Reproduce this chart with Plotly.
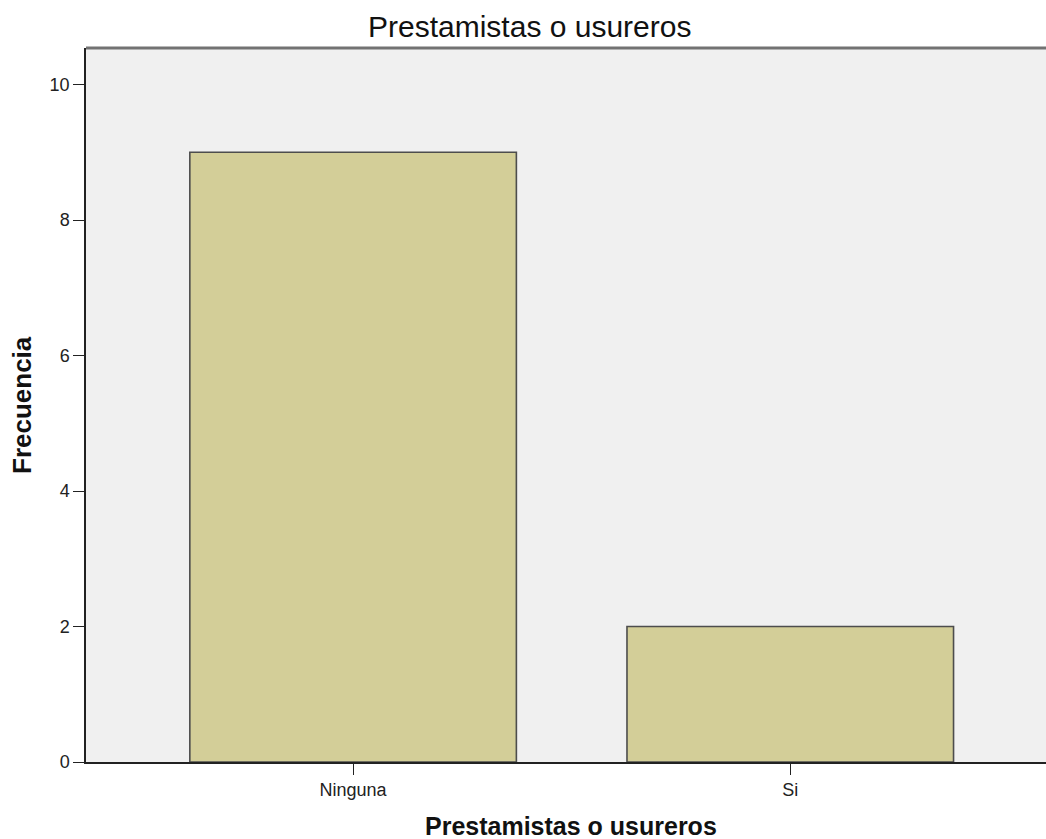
import plotly.graph_objects as go

categories = ["Ninguna", "Si"]
frequencies = [9, 2]
y_ticks = [0, 2, 4, 6, 8, 10]

W, H = 1046, 839
L, R, T, B = 86, 0, 48, 77
PW = W - L - R

fig = go.Figure(go.Bar(
    x=[0, 1], y=frequencies, width=0.747,
    marker=dict(color="#d3ce98", line=dict(color="#4d4d4d", width=1.6)),
))

font_fam = "Liberation Sans, Arial, sans-serif"
fig.update_layout(
    width=W, height=H,
    margin=dict(l=L, r=R, t=T, b=B),
    paper_bgcolor="white", plot_bgcolor="#f0f0f0",
    showlegend=False,
    font=dict(family=font_fam, size=18, color="#222"),
    xaxis=dict(range=[-0.611, 1.585], tickvals=[0, 1], ticktext=categories,
               showgrid=False, zeroline=False, showline=True, linecolor="#222", linewidth=1.5,
               ticks="outside", ticklen=11, tickcolor="#222", tickwidth=1.2,
               tickfont=dict(size=18, family=font_fam)),
    yaxis=dict(range=[0, 10.54], tickvals=y_ticks, showgrid=False, zeroline=False,
               showline=True, linecolor="#222", linewidth=1.5,
               ticks="outside", ticklen=11, tickcolor="#222", tickwidth=1.2,
               tickfont=dict(size=18, family=font_fam)),
    shapes=[dict(type="line", xref="paper", yref="paper", x0=0, x1=1, y0=1, y1=1,
                 line=dict(color="#727272", width=3))],
    annotations=[
        dict(text="Prestamistas o usureros", xref="paper", yref="paper",
             x=(529 - L) / PW, y=1, yshift=22, yanchor="middle", showarrow=False,
             font=dict(size=30, family=font_fam, color="#111")),
        dict(text="<b>Prestamistas o usureros</b>", xref="paper", yref="paper",
             x=(571 - L) / PW, y=0, yshift=-64, yanchor="middle", showarrow=False,
             font=dict(size=25, family=font_fam, color="#111")),
        dict(text="<b>Frecuencia</b>", xref="paper", yref="paper", textangle=-90,
             x=0, xshift=-64, y=0.5, xanchor="center", yanchor="middle", showarrow=False,
             font=dict(size=26, family=font_fam, color="#111")),
    ],
)

fig.write_html("out.html", config={"displayModeBar": False},
               post_script="document.body.style.margin='0';")
